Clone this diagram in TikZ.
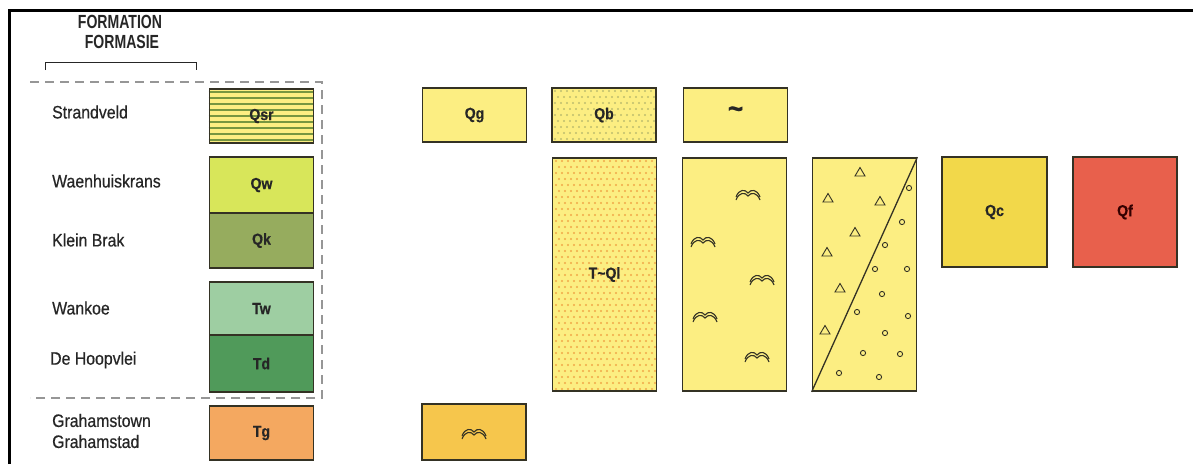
\documentclass[tikz,border=0pt]{standalone}
\usepackage{fontspec}
\setmainfont{Liberation Sans}[FakeStretch=0.88, FakeBold=0.6]
\newfontfamily\headfont{Liberation Sans}[FakeStretch=0.74]
\usetikzlibrary{backgrounds}
\definecolor{lineink}{RGB}{52,50,36}
\definecolor{textink}{RGB}{38,38,38}
\definecolor{sandyel}{RGB}{252,238,130}
\definecolor{stripegr}{RGB}{118,150,64}
\definecolor{qwcol}{RGB}{216,230,90}
\definecolor{qkcol}{RGB}{150,172,94}
\definecolor{twcol}{RGB}{158,206,162}
\definecolor{tdcol}{RGB}{80,154,90}
\definecolor{tgcol}{RGB}{244,168,96}
\definecolor{qccol}{RGB}{242,216,74}
\definecolor{qfcol}{RGB}{232,96,76}
\definecolor{tdunecol}{RGB}{246,198,76}
\definecolor{dotgr}{RGB}{190,190,110}
\definecolor{dotor}{RGB}{240,168,72}
\definecolor{framegray}{RGB}{150,150,150}

\begin{document}
\begin{tikzpicture}[x=1pt, y=-1pt,
    unit/.style={draw=lineink, line width=1.8pt, fill=#1, minimum width=104pt,
                 font=\bfseries\fontsize{16}{18}\selectfont, text=textink, inner sep=0pt},
    unit/.default=sandyel,
    emptyunit/.style={draw=lineink, line width=1.8pt, minimum width=104pt,
                      font=\bfseries\fontsize{16}{18}\selectfont, text=textink, inner sep=0pt},
    fmname/.style={font=\fontsize{18}{22}\selectfont, text=textink, anchor=west, inner sep=0pt},
    duneline/.style={draw=lineink, line width=1.1pt},
    dune/.pic={
      \draw[duneline] (-12,4) .. controls (-9,-4) and (-3,-4) .. (0,0)
                      .. controls (3,-4) and (9,-4) .. (12,4);
      \draw[duneline] (-12,7) .. controls (-9,-1) and (-3,-1) .. (0,3)
                      .. controls (3,-1) and (9,-1) .. (12,7);
    },
    tri/.pic={\draw[lineink, line width=0.9pt] (0,-4.5) -- (5,4) -- (-5,4) -- cycle;},
    pebble/.pic={\draw[lineink, line width=0.9pt] (0,0) circle (2.6);}
  ]
    \useasboundingbox (0,0) rectangle (1193,464);

    % sheet border
    \draw[black, line width=3pt] (9,464) -- (9,10) -- (1193,10);

    % heading
    \node[font=\headfont\bfseries\fontsize{19}{22}\selectfont, text=textink] (headA) at (120,22) {FORMATION};
    \node[font=\headfont\bfseries\fontsize{19}{22}\selectfont, text=textink] (headB) at (122,42) {FORMASIE};
    \draw[textink, line width=1pt] (45,70) -- (45,62) -- (196,62) -- (196,70);

    % dashed frame
    \draw[framegray, line width=1.6pt, dash pattern=on 9pt off 6pt] (30,82) -- (322,82) -- (322,398) -- (30,398);

    % formation column
    \node[emptyunit, minimum height=54pt] (qsr) at (261.5,116) {Qsr};
    \node[unit=qwcol, minimum height=56pt] (qw) at (261.5,185) {Qw};
    \node[unit=qkcol, minimum height=55pt] (qk) at (261.5,240.5) {Qk};
    \node[unit=twcol, minimum height=53pt] (tw) at (261.5,308.5) {Tw};
    \node[unit=tdcol, minimum height=57pt] (td) at (261.5,363.5) {Td};
    \node[unit=tgcol, minimum height=54pt] (tg) at (261.5,433) {Tg};

    \node[fmname] (nsr) at (52,112) {Strandveld};
    \node[fmname] (nw) at (52,181) {Waenhuiskrans};
    \node[fmname] (nk) at (52,240) {Klein Brak};
    \node[fmname] (ntw) at (52,308) {Wankoe};
    \node[fmname] (ntd) at (50,360) {De Hoopvlei};
    \node[fmname, align=left, font=\fontsize{18}{21}\selectfont] (ntg) at (52,431) {Grahamstown\\Grahamstad};

    % other units
    \node[unit, minimum height=54pt] (qg) at (474.5,115) {Qg};
    \node[emptyunit, minimum height=54pt] (qb) at (604,115) {Qb};
    \node[unit, minimum height=54pt, font=\bfseries\fontsize{30}{30}\selectfont] (qtilde) at (735.5,115) {\raisebox{5pt}{\textasciitilde}};
    \node[emptyunit, minimum height=233pt] (tql) at (604.5,274.5) {T\textasciitilde Ql};
    \node[unit, minimum height=233pt] (qdune) at (734.5,274.5) {};
    \node[unit, minimum height=233pt] (qtri) at (864.5,274.5) {};
    \node[unit=qccol, minimum width=105pt, minimum height=110pt] (qc) at (994.5,212) {Qc};
    \node[unit=qfcol, minimum height=110pt, text=black!80!red] (qf) at (1125,212) {Qf};
    \node[unit=tdunecol, minimum height=56pt] (tdune) at (474,432) {};

    % patterned fills
    \begin{scope}[on background layer]
      \fill[sandyel] (qsr.south west) rectangle (qsr.north east);
      \foreach \k in {0,...,8}{
        \draw[stripegr, line width=2.6pt] (qsr.west |- 0,{92+6*\k}) -- (qsr.east |- 0,{92+6*\k});
      }
      \fill[sandyel] (qb.south west) rectangle (qb.north east);
      \foreach \r in {0,...,8}{
        \foreach \c in {0,...,16}{
          \fill[dotgr] ({555+6*\c+3*mod(\r,2)},{91+6*\r}) circle (1.2);
        }
      }
      \fill[sandyel] (tql.south west) rectangle (tql.north east);
      \foreach \r in {0,...,38}{
        \foreach \c in {0,...,16}{
          \fill[dotor] ({556+6*\c+3*mod(\r,2)},{161+6*\r}) circle (1.2);
        }
      }
    \end{scope}

    % dunes
    \foreach \px/\py in {748/193, 703/240, 762/278, 705/315, 757/355}{
      \pic at (\px,\py) {dune};
    }
    \pic at (tdune) {dune};

    % scree and pebbles
    \draw[lineink, line width=1.3pt] (qtri.south west) -- (qtri.north east);
    \foreach \px/\py in {860/172, 828/198, 880/201, 855/232, 827/252, 840/288, 825/330}{
      \pic at (\px,\py) {tri};
    }
    \foreach \px/\py in {909/188, 902/222, 885/245, 875/269, 907/269, 882/294, 857/312,
                        908/316, 885/333, 863/353, 900/354, 839/373, 879/377}{
      \pic at (\px,\py) {pebble};
    }
  \end{tikzpicture}
\end{document}
